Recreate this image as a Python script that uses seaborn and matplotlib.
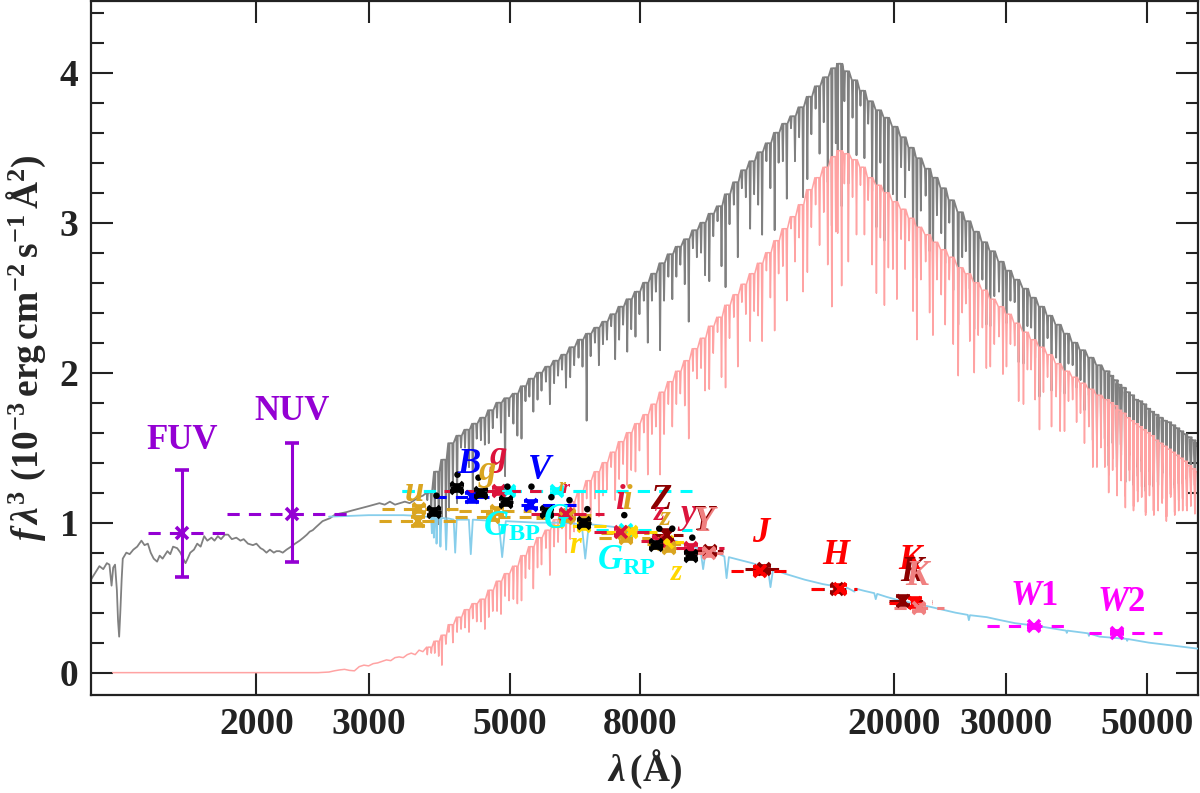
import numpy as np
import matplotlib
matplotlib.use("Agg")
import matplotlib.pyplot as plt
import seaborn as sns
from matplotlib.ticker import FixedLocator, NullLocator, MultipleLocator

# ---------------- spectra ----------------
# observed UV spectrum (grey), 1100-3650 A
gray_uv_wl = [1100, 1115, 1134, 1150, 1165, 1176, 1185, 1192, 1200, 1208,
              1213, 1218, 1223, 1229, 1234, 1242, 1250, 1265, 1282, 1300,
              1320, 1335, 1351, 1365, 1380, 1397, 1410, 1425, 1450, 1465,
              1480, 1502, 1520, 1535, 1548, 1560, 1575, 1596, 1615, 1635,
              1656, 1675, 1700, 1719, 1740, 1760, 1785, 1806, 1830, 1860,
              1888, 1910, 1940, 1975, 2000, 2030, 2050, 2074, 2100, 2130,
              2150, 2174, 2200, 2230, 2267, 2300, 2338, 2370, 2400, 2425,
              2452, 2480, 2510, 2540, 2575, 2610, 2650, 2700, 2768, 2820,
              2880, 2939, 3000, 3060, 3120, 3180, 3240, 3300, 3360, 3420,
              3480, 3540, 3600, 3650]
gray_uv_f = [0.62, 0.66, 0.71, 0.69, 0.73, 0.72, 0.58, 0.70, 0.72, 0.55,
             0.35, 0.24, 0.40, 0.62, 0.76, 0.78, 0.80, 0.79, 0.82, 0.84,
             0.88, 0.85, 0.86, 0.80, 0.76, 0.74, 0.78, 0.76, 0.81, 0.79,
             0.84, 0.83, 0.80, 0.76, 0.73, 0.76, 0.80, 0.82, 0.86, 0.84,
             0.91, 0.88, 0.90, 0.88, 0.91, 0.89, 0.92, 0.92, 0.89, 0.90,
             0.88, 0.89, 0.86, 0.85, 0.86, 0.83, 0.82, 0.80, 0.82, 0.80,
             0.81, 0.81, 0.80, 0.82, 0.84, 0.86, 0.88, 0.90, 0.92, 0.94,
             0.95, 0.97, 0.99, 1.01, 1.02, 1.03, 1.05, 1.06, 1.07, 1.08,
             1.09, 1.10, 1.11, 1.12, 1.13, 1.12, 1.14, 1.12, 1.13, 1.14,
             1.13, 1.15, 1.17, 1.18]

# cool-star model (pink), UV part
pink_uv_wl = [1190, 2500, 2600, 2650, 2700, 2750, 2800, 2850, 2900, 2950, 3000, 3050,
              3100, 3150, 3200, 3250, 3300, 3350, 3400, 3450, 3500, 3550, 3600, 3650]
pink_uv_f = [0.0, 0.0, 0.004, 0.012, 0.018, 0.022, 0.015, 0.012, 0.04, 0.05, 0.045, 0.06,
             0.065, 0.075, 0.085, 0.08, 0.10, 0.105, 0.10, 0.12, 0.13, 0.12, 0.15, 0.14]

# optical/IR model grid: continuum level and depths of two lines redward of each node
model_wl = [3700, 3800, 3900, 4000, 4120, 4240, 4360, 4490, 4620, 4760,
            4900, 5050, 5200, 5350, 5510, 5680, 5850, 6020, 6200, 6390,
            6580, 6780, 6980, 7190, 7400, 7620, 7850, 8090, 8330, 8580,
            8840, 9100, 9380, 9660, 9950, 10250, 10560, 10870, 11200, 11530,
            11880, 12230, 12600, 12980, 13370, 13770, 14180, 14610, 15050, 15500,
            15960, 16300, 16700, 17200, 17700, 18200, 18750, 19300, 19900, 20500,
            21100, 21700, 22400, 23000, 23700, 24400, 25200, 25900, 26700, 27500,
            28300, 29200, 30000, 30900, 31900, 32800, 33800, 34800, 35900, 37000,
            38100, 39200, 40400, 41600, 42800, 43400, 44100, 44700, 45400, 46100,
            46800, 47500, 48200, 48900, 49600, 50300, 51100, 51900, 52700, 53500,
            54300, 55100, 55900, 56700, 57600, 58400, 59300, 60000]
gray_top = [1.20, 1.34, 1.42, 1.53, 1.58, 1.62, 1.66, 1.70, 1.75, 1.80,
            1.83, 1.86, 1.91, 1.96, 2.00, 2.04, 2.08, 2.12, 2.17, 2.22,
            2.26, 2.30, 2.34, 2.39, 2.44, 2.49, 2.54, 2.60, 2.66, 2.73,
            2.79, 2.84, 2.89, 2.95, 3.00, 3.06, 3.11, 3.19, 3.27, 3.35,
            3.41, 3.47, 3.53, 3.60, 3.66, 3.71, 3.77, 3.84, 3.91, 3.97,
            4.03, 4.06, 4.01, 3.95, 3.88, 3.81, 3.75, 3.70, 3.64, 3.57,
            3.50, 3.43, 3.36, 3.30, 3.23, 3.15, 3.07, 3.01, 2.94, 2.87,
            2.81, 2.74, 2.68, 2.62, 2.56, 2.50, 2.44, 2.38, 2.32, 2.26,
            2.20, 2.15, 2.10, 2.05, 2.01, 1.98, 1.95, 1.92, 1.90, 1.87,
            1.85, 1.82, 1.81, 1.79, 1.76, 1.74, 1.72, 1.70, 1.68, 1.67,
            1.65, 1.63, 1.61, 1.59, 1.57, 1.55, 1.53, 1.51]
gray_depth = [0.05, 0.30, 0.38, 0.45, 0.45, 0.12, 0.50, 0.15, 0.22, 0.10,
              0.52, 0.20, 0.35, 0.12, 0.18, 0.10, 0.15, 0.10, 0.20, 0.12,
              0.58, 0.10, 0.15, 0.08, 0.22, 0.35, 0.30, 0.12, 0.18, 0.58,
              0.15, 0.20, 0.30, 0.12, 0.20, 0.45, 0.10, 0.62, 0.15, 0.12,
              0.45, 0.35, 0.12, 0.65, 0.25, 0.08, 0.20, 0.55, 0.15, 0.30,
              1.05, 0.60, 0.20, 0.25, 0.10, 0.15, 0.78, 0.82, 0.45, 0.20,
              0.15, 0.80, 0.18, 0.65, 0.30, 0.15, 0.75, 0.20, 0.65, 0.25,
              0.50, 0.20, 0.35, 0.15, 0.50, 0.20, 0.60, 0.15, 0.22, 0.40,
              0.15, 0.20, 0.25, 0.50, 0.45, 0.60, 0.35, 0.55, 0.45, 0.60,
              0.40, 0.55, 0.50, 0.45, 0.55, 0.40, 0.50, 0.45, 0.35, 0.45,
              0.30, 0.40, 0.35, 0.25, 0.30, 0.25, 0.28, 0.0]
gray_depth2 = [0.10, 0.35, 0.40, 0.30, 0.08, 0.25, 0.10, 0.18, 0.12, 0.20,
               0.12, 0.28, 0.10, 0.22, 0.12, 0.25, 0.10, 0.22, 0.12, 0.18,
               0.15, 0.25, 0.12, 0.30, 0.12, 0.20, 0.15, 0.40, 0.12, 0.25,
               0.30, 0.12, 0.55, 0.18, 0.35, 0.15, 0.40, 0.20, 0.50, 0.18,
               0.22, 0.55, 0.30, 0.20, 0.50, 0.30, 0.60, 0.25, 0.45, 0.70,
               0.50, 0.95, 0.75, 0.50, 0.45, 0.60, 0.35, 0.50, 0.70, 0.40,
               0.65, 0.35, 0.55, 0.25, 0.50, 0.60, 0.30, 0.45, 0.35, 0.55,
               0.30, 0.45, 0.20, 0.55, 0.25, 0.40, 0.30, 0.50, 0.45, 0.20,
               0.30, 0.40, 0.55, 0.35, 0.50, 0.45, 0.60, 0.40, 0.55, 0.35,
               0.60, 0.45, 0.40, 0.55, 0.35, 0.50, 0.45, 0.40, 0.50, 0.30,
               0.40, 0.30, 0.35, 0.30, 0.25, 0.30, 0.20, 0.0]
pink_top = [0.17, 0.21, 0.25, 0.32, 0.37, 0.42, 0.46, 0.49, 0.55, 0.61,
            0.66, 0.71, 0.78, 0.84, 0.90, 0.95, 1.02, 1.08, 1.14, 1.21,
            1.28, 1.34, 1.40, 1.47, 1.54, 1.60, 1.66, 1.72, 1.79, 1.87,
            1.94, 2.01, 2.08, 2.16, 2.23, 2.31, 2.37, 2.45, 2.52, 2.59,
            2.66, 2.73, 2.80, 2.88, 2.96, 3.04, 3.12, 3.22, 3.30, 3.37,
            3.44, 3.48, 3.46, 3.42, 3.37, 3.30, 3.25, 3.20, 3.14, 3.09,
            3.03, 2.97, 2.92, 2.87, 2.82, 2.77, 2.70, 2.66, 2.60, 2.55,
            2.49, 2.44, 2.39, 2.33, 2.27, 2.22, 2.17, 2.12, 2.06, 2.01,
            1.97, 1.93, 1.89, 1.85, 1.82, 1.80, 1.78, 1.75, 1.73, 1.70,
            1.68, 1.66, 1.64, 1.62, 1.60, 1.58, 1.55, 1.53, 1.51, 1.49,
            1.47, 1.45, 1.43, 1.41, 1.38, 1.36, 1.34, 1.33]
pink_depth = [0.05, 0.08, 0.20, 0.05, 0.10, 0.12, 0.10, 0.15, 0.18, 0.20,
              0.15, 0.22, 0.30, 0.15, 0.20, 0.12, 0.18, 0.12, 0.25, 0.15,
              0.12, 0.18, 0.22, 0.10, 0.25, 0.35, 0.32, 0.12, 0.20, 0.55,
              0.15, 0.22, 0.30, 0.15, 0.20, 0.42, 0.10, 0.55, 0.15, 0.12,
              0.45, 0.35, 0.12, 0.60, 0.25, 0.08, 0.22, 0.55, 0.18, 0.30,
              1.00, 0.55, 0.20, 0.25, 0.12, 0.15, 0.72, 0.75, 0.45, 0.20,
              0.15, 0.75, 0.18, 0.62, 0.30, 0.15, 0.72, 0.20, 0.60, 0.25,
              0.45, 0.20, 0.35, 0.15, 0.48, 0.20, 0.55, 0.15, 0.22, 0.40,
              0.15, 0.20, 0.25, 0.48, 0.45, 0.60, 0.35, 0.55, 0.45, 0.60,
              0.40, 0.55, 0.50, 0.45, 0.55, 0.40, 0.50, 0.45, 0.35, 0.45,
              0.30, 0.40, 0.35, 0.25, 0.30, 0.25, 0.28, 0.0]
pink_depth2 = [0.04, 0.10, 0.06, 0.12, 0.08, 0.15, 0.12, 0.20, 0.14, 0.22,
               0.18, 0.25, 0.15, 0.28, 0.18, 0.30, 0.15, 0.28, 0.20, 0.25,
               0.22, 0.30, 0.18, 0.32, 0.15, 0.25, 0.18, 0.40, 0.15, 0.28,
               0.30, 0.15, 0.52, 0.20, 0.35, 0.18, 0.40, 0.22, 0.48, 0.20,
               0.25, 0.52, 0.30, 0.22, 0.48, 0.30, 0.58, 0.25, 0.45, 0.65,
               0.50, 0.90, 0.72, 0.50, 0.45, 0.58, 0.35, 0.50, 0.65, 0.40,
               0.62, 0.35, 0.52, 0.25, 0.50, 0.58, 0.30, 0.45, 0.35, 0.52,
               0.30, 0.45, 0.20, 0.52, 0.25, 0.40, 0.30, 0.48, 0.45, 0.20,
               0.30, 0.40, 0.52, 0.35, 0.50, 0.45, 0.60, 0.40, 0.55, 0.35,
               0.60, 0.45, 0.40, 0.55, 0.35, 0.50, 0.45, 0.40, 0.50, 0.30,
               0.40, 0.30, 0.35, 0.30, 0.25, 0.30, 0.20, 0.0]

# white dwarf model (light blue)
blue_wl = [2600, 2800, 3000, 3200, 3400, 3600, 3700, 3760, 3771, 3782,
           3790, 3798, 3808, 3826, 3835, 3846, 3878, 3889, 3902, 3955,
           3970, 3987, 4080, 4102, 4125, 4310, 4340, 4372, 4800, 4861,
           4925, 5500, 6000, 6480, 6563, 6650, 7000, 7500, 8000, 8500,
           9000, 9500, 9950, 10049, 10150, 10400, 10850, 10938, 11030, 11500,
           12000, 12700, 12818, 12940, 13500, 14500, 15500, 16000, 16410, 16500,
           16810, 16900, 17360, 17450, 18000, 18650, 18751, 18850, 19500, 20460,
           21550, 21655, 21760, 22500, 25000, 26150, 26252, 26360, 28000, 29420,
           31000, 33800, 37300, 37400, 37500, 40400, 40512, 40620, 42100, 46400,
           46525, 46650, 50300, 55000, 60000]
blue_f = [1.04, 1.045, 1.05, 1.05, 1.05, 1.045, 1.04, 1.035, 0.93, 1.035,
          1.03, 0.90, 1.03, 1.03, 0.86, 1.03, 1.03, 0.84, 1.03, 1.03,
          0.82, 1.03, 1.02, 0.80, 1.02, 1.02, 0.79, 1.02, 1.01, 0.77,
          1.01, 1.00, 1.00, 0.99, 0.76, 0.99, 0.98, 0.965, 0.95, 0.92,
          0.885, 0.85, 0.825, 0.69, 0.82, 0.81, 0.775, 0.63, 0.77, 0.75,
          0.73, 0.695, 0.57, 0.69, 0.66, 0.62, 0.59, 0.58, 0.555, 0.575,
          0.548, 0.567, 0.54, 0.56, 0.545, 0.53, 0.49, 0.525, 0.505, 0.48,
          0.462, 0.43, 0.46, 0.445, 0.40, 0.385, 0.35, 0.383, 0.37, 0.35,
          0.33, 0.31, 0.28, 0.265, 0.28, 0.262, 0.245, 0.26, 0.24, 0.225,
          0.212, 0.224, 0.20, 0.18, 0.16]

# ---------------- photometry ----------------
galex_wl = [1528, 2272]
galex_f = [0.93, 1.06]
galex_err_lo = [0.29, 0.32]
galex_err_hi = [0.42, 0.47]
galex_lo = [1351, 1797]
galex_hi = [1796, 2822]

gaia_wl = [4991, 5935, 7613]
gaia_f = [1.21, 1.21, 0.95]
gaia_err = [0.015, 0.015, 0.015]
gaia_lo = [3380, 3380, 6832]
gaia_hi = [6600, 9664, 9664]

apass_wl = [4366, 5404]
apass_f = [1.17, 1.12]
apass_err = [0.03, 0.025]
apass_lo = [3806, 5212]
apass_hi = [4728, 6381]

sdss_wl = [3580, 4763, 6130, 7613, 8894]
sdss_f = [1.01, 1.08, 1.03, 0.90, 0.83]
sdss_err = [0.03, 0.02, 0.02, 0.02, 0.02]
sdss_lo = [3120, 4166, 5500, 6900, 8300]
sdss_hi = [4166, 5400, 6900, 8300, 9600]

sdss2_wl = [3600, 4700, 6180, 7560, 8700]
sdss2_f = [1.09, 1.04, 1.05, 0.93, 0.86]
sdss2_err = [0.02, 0.02, 0.02, 0.02, 0.02]
sdss2_lo = [3150, 4100, 5500, 6950, 8200]
sdss2_hi = [4150, 5400, 6900, 8250, 9400]

smss_wl = [6541, 7752, 8830]
smss_f = [0.98, 0.94, 0.87]
smss_err = [0.02, 0.02, 0.02]
smss_lo = [5800, 7000, 8300]
smss_hi = [7300, 8500, 9400]

ps1_wl = [4814, 6130, 7477, 8577, 9629]
ps1_f = [1.21, 1.06, 0.94, 0.88, 0.83]
ps1_err = [0.02, 0.02, 0.02, 0.02, 0.02]
ps1_lo = [3943, 5386, 6778, 8028, 9100]
ps1_hi = [5593, 7036, 8304, 9346, 10838]

ukidss_wl = [8826, 10300, 12500, 16300, 20700]
ukidss_f = [0.92, 0.81, 0.69, 0.56, 0.48]
ukidss_err = [0.03, 0.02, 0.02, 0.02, 0.03]
ukidss_lo = [8360, 9790, 11690, 14920, 19680]
ukidss_hi = [9360, 10810, 13280, 17400, 23000]

tmass_wl = [12350, 16500, 21640]
tmass_f = [0.68, 0.56, 0.465]
tmass_err = [0.025, 0.025, 0.03]
tmass_lo = [11130, 14850, 19680]
tmass_hi = [13720, 17500, 22960]

vista_wl = [10250, 21900]
vista_f = [0.80, 0.43]
vista_err = [0.02, 0.02]
vista_lo = [9750, 20000]
vista_hi = [10800, 24000]

wise_wl = [33212, 44800]
wise_f = [0.31, 0.265]
wise_err = [0.01, 0.01]
wise_lo = [28034, 40512]
wise_hi = [37426, 52724]

other_wl = [3806, 4122, 4500, 4937, 5725, 6541, 8484, 9629]
other_f = [1.07, 1.23, 1.20, 1.14, 1.07, 1.00, 0.85, 0.78]
other_err = [0.02, 0.02, 0.02, 0.02, 0.02, 0.02, 0.02, 0.02]
other_lo = [3720, 4030, 4400, 4830, 5600, 6400, 8300, 9420]
other_hi = [3900, 4220, 4600, 5050, 5850, 6690, 8680, 9840]

synth_wl = [3834, 4136, 4462, 4955, 5404, 5808, 6200, 6613, 7558, 8576, 8988, 9664]
synth_f = [1.18, 1.32, 1.30, 1.24, 1.24, 1.17, 1.15, 1.09, 1.05, 0.96, 0.96, 0.90]

# band labels: text, wavelength, flux, colour, size
label_text = [r"$u$", r"$B$", r"$g$", r"$g$", r"$V$", r"$r$", r"$r$",
              r"$G_{\rm BP}$", r"$G$", r"$r$", r"$i$", r"$i$", r"$Z$", r"$z$", r"$z$",
              r"$y$", r"$Y$", r"$Y$", r"$G_{\rm RP}$", r"$z$", r"$J$", r"$H$",
              r"$K$", r"$K$", r"$K$", r"$W1$", r"$W2$"]
label_wl = [3542, 4319, 4797, 4610, 5582, 6043, 6130,
            5027, 5914, 6358, 7450, 7640, 8640, 8577, 8780,
            9491, 10100, 10166, 7613, 9154, 12444, 16310,
            21380, 21530, 21928, 33212, 45627]
label_f = [1.20, 1.385, 1.43, 1.33, 1.35, 1.24, 1.23,
           0.97, 1.02, 0.85, 1.15, 1.15, 1.15, 1.06, 1.03,
           1.04, 1.01, 1.00, 0.74, 0.67, 0.93, 0.78,
           0.75, 0.665, 0.64, 0.505, 0.465]
label_color = ["#DAA520", "#0000FF", "#DC143C", "#DAA520", "#0000FF", "#DAA520", "#DC143C",
               "#00FFFF", "#00FFFF", "#FFD700", "#DC143C", "#DAA520", "#8B0000", "#DC143C", "#DAA520",
               "#DC143C", "#8B0000", "#F08080", "#00FFFF", "#FFD700", "#FF0000", "#FF0000",
               "#FF0000", "#8B0000", "#F08080", "#FF00FF", "#FF00FF"]
label_size = [25, 25, 25, 25, 25, 13, 13,
              25, 25, 22, 25, 25, 25, 20, 20,
              25, 25, 25, 25, 21, 25, 25,
              25, 25, 25, 25, 25]


def with_lines(wl, top, depth, depth2):
    # continuum node followed by two narrow absorption lines
    xs, ys = [], []
    for w, t, d, d2 in zip(wl, top, depth, depth2):
        xs += [w, w * 1.0025, w * 1.005, w * 1.0145, w * 1.017, w * 1.0195]
        ys += [t, max(t - d, 0.0), t, t, max(t - d2, 0.0), t]
    return xs, ys


sns.set_theme(style="ticks")
plt.rcParams["font.family"] = ["Liberation Serif", "DejaVu Serif"]
plt.rcParams["font.weight"] = "bold"
plt.rcParams["mathtext.fontset"] = "custom"
plt.rcParams["mathtext.rm"] = "Liberation Serif:bold"
plt.rcParams["mathtext.it"] = "Liberation Serif:italic:bold"
plt.rcParams["mathtext.bf"] = "Liberation Serif:bold"

fig, ax = plt.subplots(figsize=(12, 7.93), dpi=100)
fig.subplots_adjust(left=0.0758, right=0.998, bottom=0.1236, top=0.9987)

gx, gy = with_lines(model_wl, gray_top, gray_depth, gray_depth2)
px_, py_ = with_lines(model_wl, pink_top, pink_depth, pink_depth2)
sns.lineplot(x=gray_uv_wl + gx, y=gray_uv_f + gy, sort=False, estimator=None,
             color="#808080", lw=1.3, ax=ax, zorder=2)
sns.lineplot(x=pink_uv_wl + px_, y=pink_uv_f + py_, sort=False, estimator=None,
             color="#FFA3A3", lw=1.1, ax=ax, zorder=2)
sns.lineplot(x=blue_wl, y=blue_f, sort=False, estimator=None,
             color="#87CEEB", lw=1.3, ax=ax, zorder=3)


def phot(wl, f, lo, hi, err_lo, err_hi, color, dashed=True, z=5):
    wl = np.asarray(wl, float)
    xerr = [wl - np.asarray(lo), np.asarray(hi) - wl]
    eb = ax.errorbar(wl, f, xerr=xerr, yerr=[err_lo, err_hi], fmt="x", color=color,
                     ms=9, mew=2.6, elinewidth=2.2, capsize=5, capthick=2.2, zorder=z)
    if dashed:
        eb[2][0].set_linestyle((0, (4, 3)))
    eb[1][0].set_visible(False)
    eb[1][1].set_visible(False)


phot(galex_wl, galex_f, galex_lo, galex_hi, galex_err_lo, galex_err_hi, "#9400D3")
phot(gaia_wl, gaia_f, gaia_lo, gaia_hi, gaia_err, gaia_err, "#00FFFF")
phot(apass_wl, apass_f, apass_lo, apass_hi, apass_err, apass_err, "#0000FF")
phot(sdss_wl, sdss_f, sdss_lo, sdss_hi, sdss_err, sdss_err, "#DAA520")
phot(sdss2_wl, sdss2_f, sdss2_lo, sdss2_hi, sdss2_err, sdss2_err, "#DAA520")
phot(smss_wl, smss_f, smss_lo, smss_hi, smss_err, smss_err, "#FFD700")
phot(ps1_wl, ps1_f, ps1_lo, ps1_hi, ps1_err, ps1_err, "#DC143C")
phot(ukidss_wl, ukidss_f, ukidss_lo, ukidss_hi, ukidss_err, ukidss_err, "#8B0000")
phot(tmass_wl, tmass_f, tmass_lo, tmass_hi, tmass_err, tmass_err, "#FF0000")
phot(vista_wl, vista_f, vista_lo, vista_hi, vista_err, vista_err, "#F08080")
phot(wise_wl, wise_f, wise_lo, wise_hi, wise_err, wise_err, "#FF00FF")
phot(other_wl, other_f, other_lo, other_hi, other_err, other_err, "black", dashed=False, z=6)
sns.scatterplot(x=synth_wl, y=synth_f, color="black", s=22, edgecolor="none", ax=ax, zorder=7)

ax.text(1527, 1.55, "FUV", color="#9400D3", fontsize=25, fontweight="bold", ha="center", va="center")
ax.text(2272, 1.74, "NUV", color="#9400D3", fontsize=25, fontweight="bold", ha="center", va="center")
for t, w, f, c, s in zip(label_text, label_wl, label_f, label_color, label_size):
    ax.text(w, f, t, color=c, fontsize=s, ha="center", va="center", zorder=8)

ax.set_xscale("log")
ax.set_xlim(1100, 60000)
ax.set_ylim(-0.149, 4.478)
ax.xaxis.set_major_locator(FixedLocator([2000, 3000, 5000, 8000, 20000, 30000, 50000]))
ax.xaxis.set_minor_locator(NullLocator())
ax.set_xticklabels(["2000", "3000", "5000", "8000", "20000", "30000", "50000"])
ax.yaxis.set_major_locator(FixedLocator([0, 1, 2, 3, 4]))
ax.yaxis.set_minor_locator(MultipleLocator(0.2))
ax.tick_params(which="both", direction="in", top=True, right=True, width=1.5,
               labelsize=27, colors="#222222")
ax.tick_params(which="major", length=16, pad=9)
ax.tick_params(which="minor", length=9)
for s in ax.spines.values():
    s.set_linewidth(1.6)
    s.set_color("#222222")

ax.set_xlabel(r"$\lambda\,(\mathrm{\AA})$", fontsize=27, labelpad=4)
ax.set_ylabel(r"$f\,\lambda^3\ (10^{-3}\,\mathrm{erg\,cm^{-2}\,s^{-1}\,\AA^{2}})$", fontsize=27, labelpad=8)

fig.savefig("out.png", dpi=100)
